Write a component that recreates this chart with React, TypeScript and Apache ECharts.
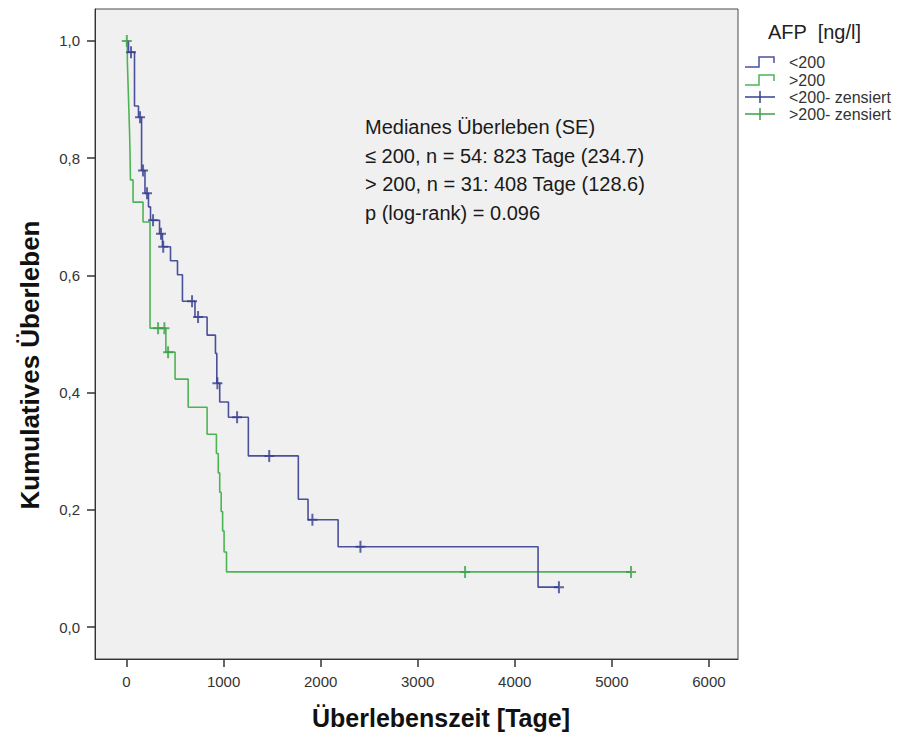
import React, { useEffect, useRef } from "react";
import * as echarts from "echarts";

// ---- Data ----
const xTicks = [0, 1000, 2000, 3000, 4000, 5000, 6000];
const yTicks = [0, 0.2, 0.4, 0.6, 0.8, 1.0];

// AFP <200 (Kaplan-Meier step points: day, survival after the event)
const blueTimes = [0, 20, 82, 123, 155, 190, 226, 247, 340, 370, 453, 525, 576, 705, 830, 916, 930, 960, 1050, 1255, 1770, 1870, 2180, 4240, 4455];
const blueSurv = [1.0, 0.981, 0.889, 0.87, 0.779, 0.74, 0.717, 0.694, 0.671, 0.649, 0.625, 0.601, 0.556, 0.529, 0.498, 0.467, 0.416, 0.384, 0.358, 0.292, 0.218, 0.183, 0.137, 0.068, 0.068];
// AFP <200 censored
const blueCensT = [46, 139, 170, 211, 273, 355, 378, 675, 737, 936, 1139, 1470, 1915, 2410, 4455];
const blueCensS = [0.981, 0.87, 0.779, 0.74, 0.694, 0.671, 0.649, 0.556, 0.529, 0.416, 0.358, 0.292, 0.183, 0.137, 0.068];

// AFP >200
const greenTimes = [0, 8, 14, 20, 26, 32, 36, 40, 67, 170, 242, 405, 500, 635, 830, 926, 945, 960, 975, 990, 1005, 1030, 5198];
const greenSurv = [1.0, 0.968, 0.935, 0.903, 0.871, 0.839, 0.806, 0.763, 0.725, 0.691, 0.51, 0.469, 0.423, 0.375, 0.329, 0.296, 0.263, 0.23, 0.197, 0.164, 0.128, 0.094, 0.094];
// AFP >200 censored
const greenCensT = [3, 325, 390, 428, 3488, 5198];
const greenCensS = [1.0, 0.51, 0.51, 0.469, 0.094, 0.094];

const legendTitle = "AFP  [ng/l]";
const legendLabels = ["<200", ">200", "<200- zensiert", ">200- zensiert"];
const noteLines = [
  "Medianes Überleben (SE)",
  "≤ 200, n = 54: 823 Tage (234.7)",
  "> 200, n = 31: 408 Tage (128.6)",
  "p (log-rank) = 0.096",
];
const xTitle = "Überlebenszeit [Tage]";
const yTitle = "Kumulatives Überleben";

const BLUE = "#4a509a";
const BLUE_MARK = "#36408f";
const GREEN = "#4db454";
const GREEN_MARK = "#3a9f45";
const FONT = "Liberation Sans, Arial, sans-serif";
const PLUS = "path://M4,0H6V5H10V7H6V12H4V7H0V5H4Z";

export default function App() {
  const ref = useRef<HTMLDivElement>(null);
  useEffect(() => {
    if (!ref.current) return;
    const chart = echarts.init(ref.current, null, { renderer: "svg" });
    const zip = (a: number[], b: number[]) => a.map((v, i) => [v, b[i]]);

    const legendY = [62, 80, 97, 114];
    const stepIcon = (y: number, color: string) => ({
      type: "polyline",
      shape: { points: [[745, y + 5], [759, y + 5], [759, y - 5], [774, y - 5], [774, y + 1]] },
      style: { stroke: color, lineWidth: 1.5, fill: null },
    });
    const crossIcon = (y: number, color: string) => [
      { type: "line", shape: { x1: 745, y1: y, x2: 775, y2: y }, style: { stroke: color, lineWidth: 1.5 } },
      { type: "line", shape: { x1: 760, y1: y - 6, x2: 760, y2: y + 6 }, style: { stroke: color, lineWidth: 1.5 } },
    ];

    const graphic: any[] = [
      {
        type: "text",
        x: 768,
        y: 32,
        style: { text: legendTitle, font: `20px ${FONT}`, fill: "#222", verticalAlign: "middle" },
      },
      stepIcon(legendY[0], BLUE),
      stepIcon(legendY[1], GREEN),
      ...crossIcon(legendY[2], BLUE_MARK),
      ...crossIcon(legendY[3], GREEN_MARK),
      ...legendLabels.map((t, i) => ({
        type: "text",
        x: 789,
        y: legendY[i],
        style: { text: t, font: `16px ${FONT}`, fill: "#333", verticalAlign: "middle" },
      })),
      ...noteLines.map((t, i) => ({
        type: "text",
        x: 365,
        y: 127 + i * 28.5,
        style: { text: t, font: `20px ${FONT}`, fill: "#1a1a1a", verticalAlign: "middle" },
      })),
      {
        type: "text",
        x: 441,
        y: 718,
        style: { text: xTitle, font: `bold 25px ${FONT}`, fill: "#111", align: "center", verticalAlign: "middle" },
      },
      {
        type: "text",
        x: 30,
        y: 365,
        rotation: Math.PI / 2,
        style: { text: yTitle, font: `bold 26px ${FONT}`, fill: "#111", align: "center", verticalAlign: "middle" },
      },
    ];

    chart.setOption({
      animation: false,
      backgroundColor: "#ffffff",
      grid: {
        left: 95,
        right: 166,
        top: 9,
        bottom: 74,
        show: true,
        backgroundColor: "#f0f0f0",
        borderColor: "#4a4a4a",
        borderWidth: 1,
        containLabel: false,
      },
      xAxis: {
        type: "value",
        min: -325,
        max: 6300,
        axisLine: { show: true, onZero: false, lineStyle: { color: "#333", width: 1 } },
        axisTick: { show: true, length: 8, customValues: xTicks, lineStyle: { color: "#333", width: 1.5 } },
        axisLabel: {
          customValues: xTicks,
          margin: 15,
          fontSize: 15,
          color: "#333",
          fontFamily: FONT,
          formatter: (v: number) => String(Math.round(v)),
        },
        splitLine: { show: false },
      },
      yAxis: {
        type: "value",
        min: -0.0546,
        max: 1.0546,
        axisLine: { show: true, onZero: false, lineStyle: { color: "#333", width: 1 } },
        axisTick: { show: true, length: 8, customValues: yTicks, lineStyle: { color: "#333", width: 1.5 } },
        axisLabel: {
          customValues: yTicks,
          margin: 15,
          fontSize: 15,
          color: "#333",
          fontFamily: FONT,
          formatter: (v: number) => v.toFixed(1).replace(".", ","),
        },
        splitLine: { show: false },
      },
      graphic,
      series: [
        {
          name: ">200",
          type: "line",
          step: "end",
          data: zip(greenTimes, greenSurv),
          showSymbol: false,
          lineStyle: { color: GREEN, width: 1.6 },
          z: 2,
        },
        {
          name: "<200",
          type: "line",
          step: "end",
          data: zip(blueTimes, blueSurv),
          showSymbol: false,
          lineStyle: { color: BLUE, width: 1.6 },
          z: 3,
        },
        {
          name: ">200- zensiert",
          type: "scatter",
          data: zip(greenCensT, greenCensS),
          symbol: PLUS,
          symbolSize: [10, 12],
          itemStyle: { color: GREEN_MARK },
          z: 4,
        },
        {
          name: "<200- zensiert",
          type: "scatter",
          data: zip(blueCensT, blueCensS),
          symbol: PLUS,
          symbolSize: [10, 12],
          itemStyle: { color: BLUE_MARK },
          z: 5,
        },
      ],
    });
    return () => chart.dispose();
  }, []);

  return (
    <div
      ref={ref}
      style={{ position: "absolute", left: 0, top: 0, width: 904, height: 733, background: "#fff" }}
    />
  );
}
